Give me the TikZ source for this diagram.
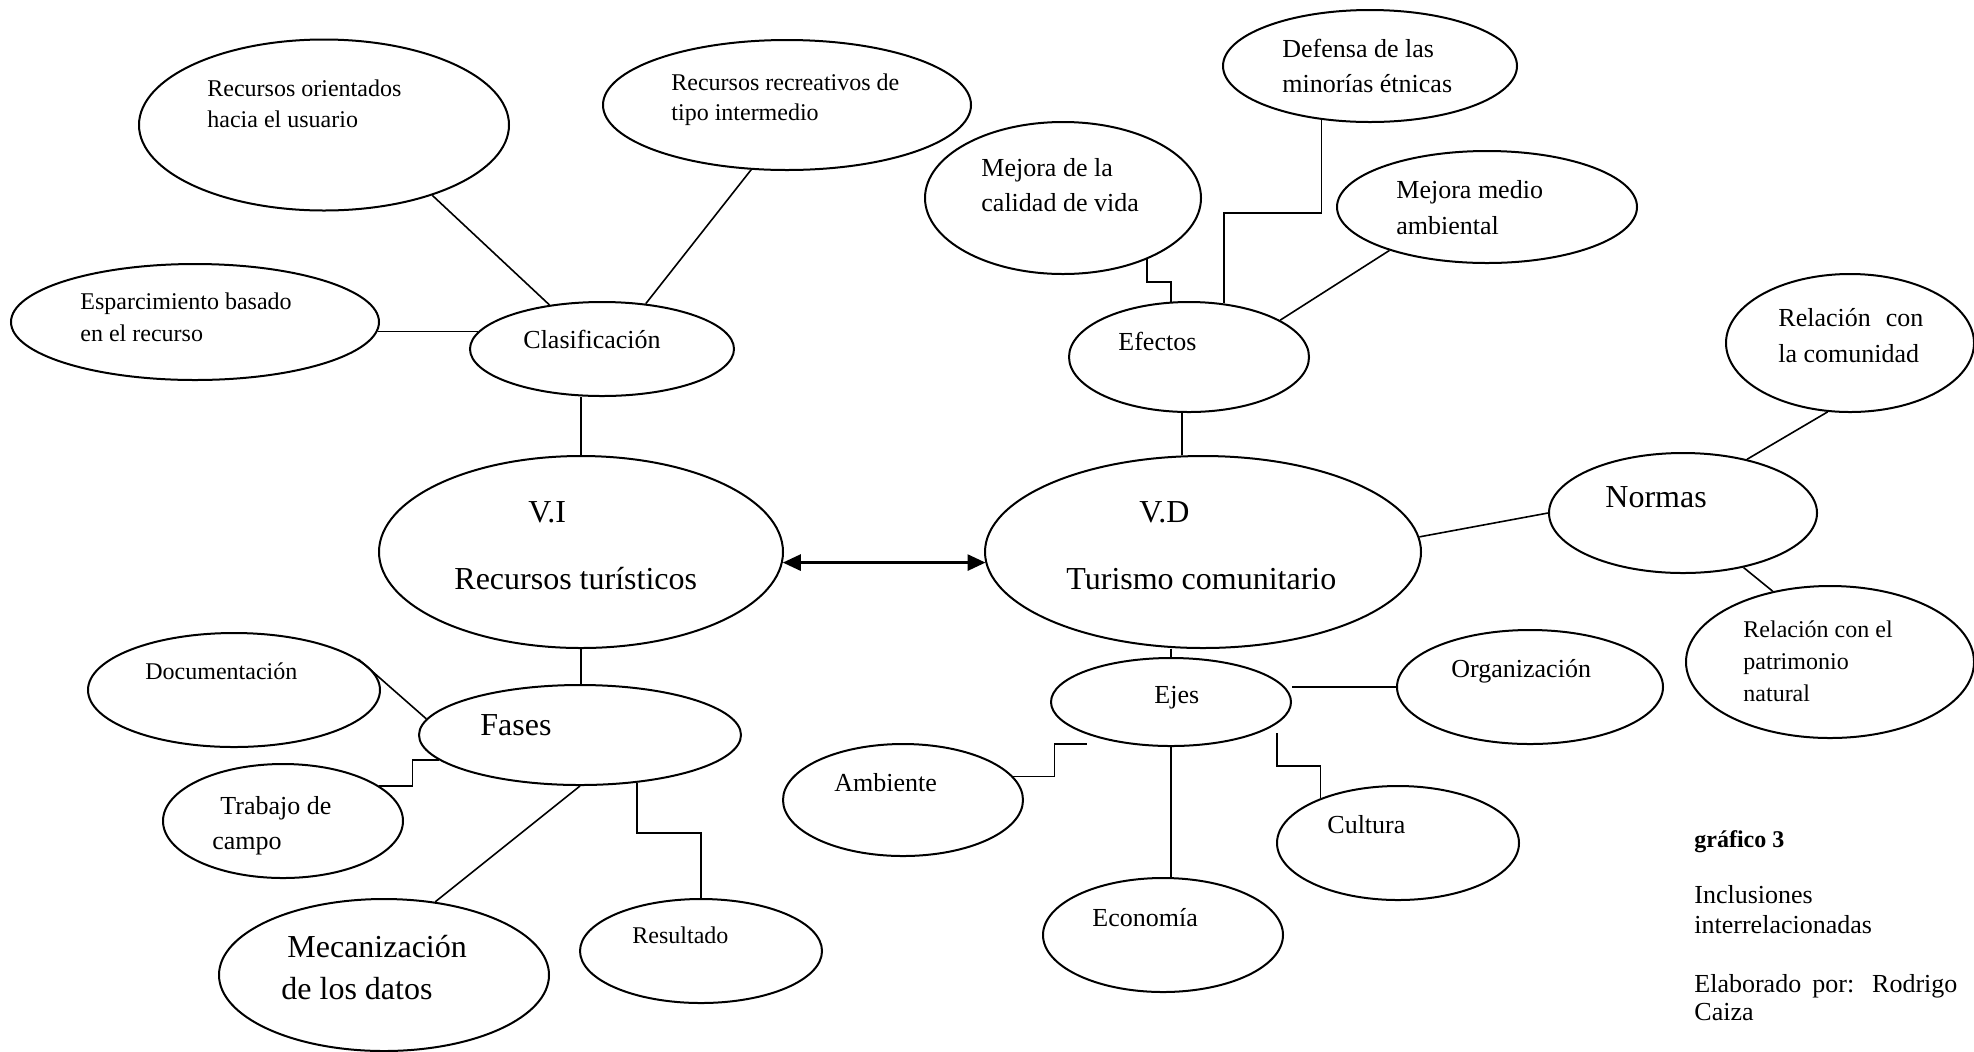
\documentclass[tikz,border=0pt]{standalone}
\usepackage{fontspec}
\setmainfont{Liberation Serif}
\usetikzlibrary{shapes.geometric,arrows.meta,calc}
\tikzset{
  ell/.style={draw, line width=1pt, ellipse, inner sep=0pt},
  el/.style 2 args={ell, minimum width=#1pt, minimum height=#2pt},
  conn/.style={line width=0.8pt},
  arr/.style={line width=1.4pt, {Triangle[length=9pt,width=8pt]}-{Triangle[length=9pt,width=8pt]}},
  tx/.style={inner sep=0pt, anchor=base west, align=left},
  ts/.style={tx, font=\fontsize{12}{15.5}\selectfont},
  tm/.style={tx, font=\fontsize{13}{17.5}\selectfont},
  tl/.style={tx, font=\fontsize{16}{21}\selectfont},
}
\begin{document}
\begin{tikzpicture}[x=0.5pt,y=-0.5pt]
\fill[white] (0,0) rectangle (1974,1051);
\useasboundingbox (0,0) rectangle (1974,1051);

% ellipses
\node[el={185}{85.5}] (orient) at (324,125) {};
\node[el={184}{65}] (recre) at (787,105) {};
\node[el={184}{58}] (espar) at (195,322) {};
\node[el={132}{47}] (clas) at (602,349) {};
\node[el={202}{96}] (vi) at (581,552) {};
\node[el={218}{96}] (vd) at (1203,552) {};
\node[el={146}{57}] (doc) at (234,690) {};
\node[el={161}{50}] (fases) at (580,735) {};
\node[el={120}{57}] (trab) at (283,821) {};
\node[el={165}{76}] (mec) at (384,975) {};
\node[el={121}{52}] (res) at (701,951) {};
\node[el={120}{56}] (amb) at (903,800) {};
\node[el={147}{56}] (def) at (1370,66) {};
\node[el={138}{76}] (cal) at (1063,198) {};
\node[el={150}{56}] (med) at (1487,207) {};
\node[el={120}{55}] (ef) at (1189,357) {};
\node[el={124}{69}] (com) at (1850,343) {};
\node[el={134}{60}] (norm) at (1683,513) {};
\node[el={144}{76}] (pat) at (1830,662) {};
\node[el={120}{44}] (ejes) at (1171,702) {};
\node[el={133}{57}] (org) at (1530,687) {};
\node[el={121}{57}] (cul) at (1398,843) {};
\node[el={120}{57}] (eco) at (1163,935) {};

% texts (multi-line nodes are placed by the baseline of their last line)
\node[ts, font=\fontsize{12}{15.5}\selectfont] (t-orient) at (207,127) {Recursos orientados\\hacia el usuario};
\node[ts, font=\fontsize{12}{15}\selectfont] (t-recre) at (671,120) {Recursos recreativos de\\tipo intermedio};
\node[ts, font=\fontsize{12}{16}\selectfont] (t-espar) at (80,341) {Esparcimiento basado\\en el recurso};
\node[tm] (t-clas) at (523,348) {Clasificación};
\node[tl] (t-vi1) at (528,522) {V.I};
\node[tl] (t-vi2) at (454,589) {Recursos turísticos};
\node[tl] (t-vd1) at (1139,522) {V.D};
\node[tl] (t-vd2) at (1066,589) {Turismo comunitario};
\node[ts] (t-doc) at (145,679) {Documentación};
\node[tl] (t-fases) at (480,735) {Fases};
\node[tm] (t-trab) at (212,849) {\hspace*{4pt}Trabajo de\\campo};
\node[tl, font=\fontsize{16}{21}\selectfont] (t-mec) at (281,999) {\hspace*{3pt}Mecanización\\de los datos};
\node[ts] (t-res) at (632,943) {Resultado};
\node[tm] (t-amb) at (834,791) {Ambiente};
\node[tm] (t-def) at (1282,92) {Defensa de las\\minorías étnicas};
\node[tm] (t-cal) at (981,211) {Mejora de la\\calidad de vida};
\node[tm, font=\fontsize{13}{18}\selectfont] (t-med) at (1396,234) {Mejora medio\\ambiental};
\node[tm] (t-ef) at (1118,350) {Efectos};
\node[tm, font=\fontsize{13}{18}\selectfont] (t-com) at (1778,362) {\makebox[72.5pt][s]{Relación con}\\la comunidad};
\node[tl] (t-norm) at (1605,507) {Normas};
\node[ts, font=\fontsize{12}{16}\selectfont] (t-pat) at (1743,701) {Relación con el\\patrimonio\\natural};
\node[tm] (t-ejes) at (1154,703) {Ejes};
\node[tm] (t-org) at (1451,677) {Organización};
\node[tm] (t-cul) at (1327,833) {Cultura};
\node[tm] (t-eco) at (1092,926) {Economía};

\node[ts, font=\bfseries\fontsize{12}{15}\selectfont] (t-graf) at (1694,847) {gráfico 3};
\node[tm, font=\fontsize{13}{15}\selectfont] (t-incl) at (1694,933) {Inclusiones\\interrelacionadas};
\node[tm, font=\fontsize{13}{14}\selectfont] (t-elab) at (1694,1020) {\makebox[131.5pt][s]{Elaborado por: Rodrigo}\\Caiza};

% connectors
\draw[conn] (orient.-33) -- (clas.140);
\draw[conn] (recre.241) -- (clas.46);
\draw[conn] (espar.-3) -- (espar.-3 -| clas.172);
\draw[conn] (vi.north |- clas.south) -- (vi.north);
\draw[conn] (vi.south) -- (vi.south |- fases.north);
\draw[arr] (vi.-3) -- (vi.-3 -| vd.183);
\draw[conn] (doc.14) -- (fases.174);
\draw[conn] (trab.20) -- ++(33,0) |- (fases.190);
\draw[conn] (fases.south) -- (mec.55);
\draw[conn] (fases.-40) -- ++(0,50) -| (res.north);
\draw[conn] (cal.-36) -- ++(0,23) -| (ef.108);
\draw[conn] (def.228) -- ++(0,93) -| (ef.57);
\draw[conn] (med.204) -- (ef.22);
\draw[conn] (ef.-97) -- (ef.-97 |- vd.north);
\draw[conn] (com.252) -- (norm.40);
\draw[conn] (norm.180) -- (vd.4);
\draw[conn] (norm.-42) -- (pat.129);
\draw[conn] (vd.south -| ejes.north) -- (ejes.north);
\draw[conn] (org.west) -- (org.west -| ejes.east);
\draw[conn] (amb.12) -- ++(41,0) |- ($(ejes.center)+(-84,42)$);
\draw[conn] ($(ejes.center)+(106,31)$) -- ++(0,33) -| (cul.150);
\draw[conn] (ejes.south) -- (ejes.south |- eco.north);
\end{tikzpicture}
\end{document}
